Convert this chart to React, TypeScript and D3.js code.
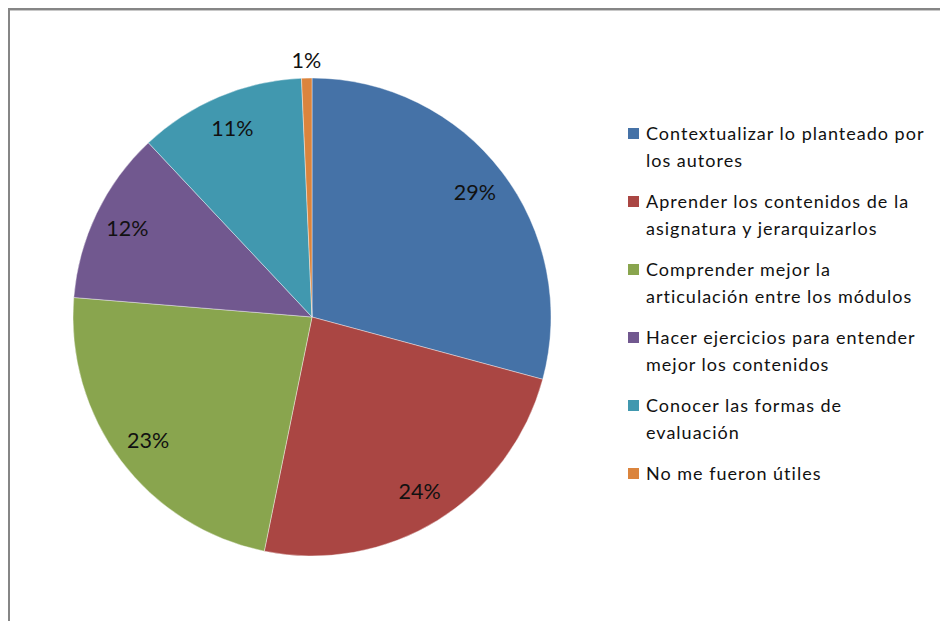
import React from "react";
import * as d3 from "d3";

const categories = [
  ["Contextualizar lo planteado por", "los autores"],
  ["Aprender los contenidos de la", "asignatura y jerarquizarlos"],
  ["Comprender mejor la", "articulación entre los módulos"],
  ["Hacer ejercicios para entender", "mejor los contenidos"],
  ["Conocer las formas de", "evaluación"],
  ["No me fueron útiles"],
];
const values = [29.2, 24.0, 23.1, 11.7, 11.3, 0.7];
const colors = ["#4572A7", "#AA4643", "#89A54E", "#71588F", "#4198AF", "#DB843D"];

const W = 940;
const H = 621;
const cx = 312;
const cy = 317;
const R = 239;

export default function App() {
  const total = d3.sum(values);
  const pie = d3.pie<number>().sort(null).value((d) => d);
  const arcs = pie(values);
  const arc = d3.arc<d3.PieArcDatum<number>>().innerRadius(0).outerRadius(R);
  const labelArc = d3.arc<d3.PieArcDatum<number>>().innerRadius(205).outerRadius(205);
  const outArc = d3.arc<d3.PieArcDatum<number>>().innerRadius(257).outerRadius(257);

  const font = "Lato, 'Open Sans', sans-serif";
  const legendX = 628;
  const legendY0 = 140;
  const entryStep = 68;
  const lineStep = 27;

  return (
    <svg
      width={W}
      height={H}
      style={{ position: "absolute", left: 0, top: 0, background: "#fff" }}
    >
      <rect x={0} y={0} width={W} height={H} fill="#fff" />
      <rect x={9} y={9} width={1200} height={1200} fill="none" stroke="#868686" strokeWidth={2} />
      <line x1={10} x2={W} y1={10.5} y2={10.5} stroke="#c8c8c8" strokeWidth={1} />
      <g transform={`translate(${cx},${cy})`}>
        {arcs.map((a, i) => (
          <path key={i} d={arc(a) || ""} fill={colors[i]} stroke="#ffffff" strokeWidth={0.4} />
        ))}
        {arcs.map((a, i) => {
          const pct = Math.round((a.data / total) * 100);
          const small = a.endAngle - a.startAngle < 0.15;
          const [x, y] = small ? outArc.centroid(a) : labelArc.centroid(a);
          return (
            <text
              key={i}
              x={x}
              y={y}
              textAnchor="middle"
              dominantBaseline="central"
              fontFamily={font}
              fontSize={21.5}
              fill="#111"
            >
              {pct}%
            </text>
          );
        })}
      </g>
      {categories.map((lines, i) => {
        const by = legendY0 + i * entryStep;
        return (
          <g key={i}>
            <rect x={legendX} y={by - 12} width={11} height={11} fill={colors[i]} />
            {lines.map((t, j) => (
              <text
                key={j}
                x={646}
                y={by + j * lineStep}
                fontFamily={font}
                fontSize={18}
                letterSpacing={1}
                fill="#111"
              >
                {t}
              </text>
            ))}
          </g>
        );
      })}
    </svg>
  );
}
